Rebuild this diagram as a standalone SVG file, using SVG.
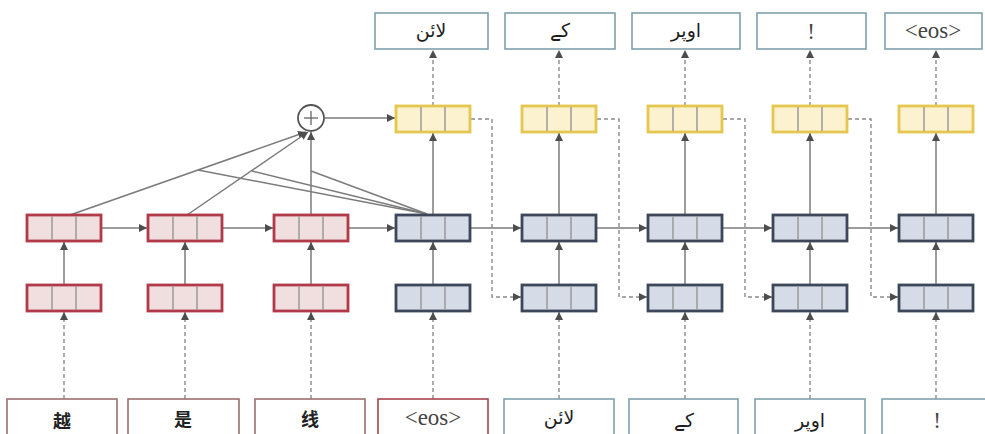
<svg xmlns="http://www.w3.org/2000/svg" width="985" height="434" viewBox="0 0 985 434">
<defs>
<marker id="ah" markerWidth="9" markerHeight="8" refX="8" refY="4" orient="auto" markerUnits="userSpaceOnUse">
<path d="M0,0 L8,4 L0,8 z" fill="#4d4d4d"/>
</marker>
<style>
.red{fill:#f1dfe0;stroke:#b1394a;stroke-width:2.8}
.blue{fill:#d6dce7;stroke:#3c4759;stroke-width:2.8}
.yel{fill:#fcf2cf;stroke:#e5c64e;stroke-width:2.8}
.dv{stroke:#9a9a9a;stroke-width:1.5}
.tb{fill:#ffffff;stroke:#7ea1ab;stroke-width:1.6}
.eb{fill:#ffffff;stroke:#9c6f72;stroke-width:1.6}
.ln{stroke:#7b7b7b;stroke-width:1.5;fill:none}
.ds{stroke:#8a8a8a;stroke-width:1.4;stroke-dasharray:4 3;fill:none}
.ur{font-family:"DejaVu Sans",sans-serif;font-size:19px;fill:#1e1e1e;text-anchor:middle}
.se{font-family:"Liberation Serif",serif;font-size:23px;fill:#444;text-anchor:middle}
.zh{font-family:"Noto Sans CJK SC",sans-serif;font-size:18px;font-weight:bold;fill:#222;text-anchor:middle}
</style>
</defs>

<g id="connectors">
<line class="ds" x1="64" y1="399" x2="64" y2="312" marker-end="url(#ah)"/>
<line class="ds" x1="185" y1="399" x2="185" y2="312" marker-end="url(#ah)"/>
<line class="ds" x1="311" y1="399" x2="311" y2="312" marker-end="url(#ah)"/>
<line class="ds" x1="433" y1="399" x2="433" y2="312" marker-end="url(#ah)"/>
<line class="ds" x1="559" y1="399" x2="559" y2="312" marker-end="url(#ah)"/>
<line class="ds" x1="685" y1="399" x2="685" y2="312" marker-end="url(#ah)"/>
<line class="ds" x1="810" y1="399" x2="810" y2="312" marker-end="url(#ah)"/>
<line class="ds" x1="936" y1="399" x2="936" y2="312" marker-end="url(#ah)"/>
<line class="ln" x1="64" y1="285" x2="64" y2="242" marker-end="url(#ah)"/>
<line class="ln" x1="185" y1="285" x2="185" y2="242" marker-end="url(#ah)"/>
<line class="ln" x1="311" y1="285" x2="311" y2="242" marker-end="url(#ah)"/>
<line class="ln" x1="433" y1="285" x2="433" y2="242" marker-end="url(#ah)"/>
<line class="ln" x1="559" y1="285" x2="559" y2="242" marker-end="url(#ah)"/>
<line class="ln" x1="685" y1="285" x2="685" y2="242" marker-end="url(#ah)"/>
<line class="ln" x1="810" y1="285" x2="810" y2="242" marker-end="url(#ah)"/>
<line class="ln" x1="936" y1="285" x2="936" y2="242" marker-end="url(#ah)"/>
<line class="ln" x1="101" y1="228" x2="147" y2="228" marker-end="url(#ah)"/>
<line class="ln" x1="223" y1="228" x2="273" y2="228" marker-end="url(#ah)"/>
<line class="ln" x1="349" y1="228" x2="395" y2="228" marker-end="url(#ah)"/>
<line class="ln" x1="471" y1="228" x2="521" y2="228" marker-end="url(#ah)"/>
<line class="ln" x1="597" y1="228" x2="647" y2="228" marker-end="url(#ah)"/>
<line class="ln" x1="723" y1="228" x2="772" y2="228" marker-end="url(#ah)"/>
<line class="ln" x1="848" y1="228" x2="898" y2="228" marker-end="url(#ah)"/>
<line class="ln" x1="433" y1="215" x2="433" y2="133" marker-end="url(#ah)"/>
<line class="ln" x1="559" y1="215" x2="559" y2="133" marker-end="url(#ah)"/>
<line class="ln" x1="685" y1="215" x2="685" y2="133" marker-end="url(#ah)"/>
<line class="ln" x1="810" y1="215" x2="810" y2="133" marker-end="url(#ah)"/>
<line class="ln" x1="936" y1="215" x2="936" y2="133" marker-end="url(#ah)"/>
<line class="ds" x1="433" y1="106" x2="433" y2="50" marker-end="url(#ah)"/>
<line class="ds" x1="559" y1="106" x2="559" y2="50" marker-end="url(#ah)"/>
<line class="ds" x1="685" y1="106" x2="685" y2="50" marker-end="url(#ah)"/>
<line class="ds" x1="810" y1="106" x2="810" y2="50" marker-end="url(#ah)"/>
<line class="ds" x1="936" y1="106" x2="936" y2="50" marker-end="url(#ah)"/>
<polyline class="ds" points="471,119 492,119 492,297 521,297" marker-end="url(#ah)"/>
<polyline class="ds" points="597,119 619,119 619,297 647,297" marker-end="url(#ah)"/>
<polyline class="ds" points="723,119 745,119 745,297 772,297" marker-end="url(#ah)"/>
<polyline class="ds" points="848,119 871,119 871,297 898,297" marker-end="url(#ah)"/>
<line class="ln" x1="70" y1="215" x2="306" y2="132" marker-end="url(#ah)"/>
<line class="ln" x1="187" y1="215" x2="308" y2="132" marker-end="url(#ah)"/>
<line class="ln" x1="311" y1="215" x2="311" y2="132" marker-end="url(#ah)"/>
<line class="ln" x1="427" y1="214" x2="198" y2="170"/>
<line class="ln" x1="427" y1="214" x2="252" y2="171"/>
<line class="ln" x1="427" y1="214" x2="311" y2="171"/>
<line class="ln" x1="325" y1="118" x2="395" y2="118" marker-end="url(#ah)"/>
</g>

<g id="plus">
<circle cx="311" cy="118" r="13" fill="#fff" stroke="#555" stroke-width="1.8"/>
<line x1="304" y1="118" x2="318" y2="118" stroke="#666" stroke-width="1.3"/>
<line x1="311" y1="111" x2="311" y2="125" stroke="#666" stroke-width="1.3"/>
</g>

<g id="enc-l1"><rect class="red" x="27" y="285" width="74" height="26"/><line class="dv" x1="52" y1="286" x2="52" y2="310"/><line class="dv" x1="76" y1="286" x2="76" y2="310"/></g>
<g id="enc-l2"><rect class="red" x="148" y="285" width="74" height="26"/><line class="dv" x1="173" y1="286" x2="173" y2="310"/><line class="dv" x1="197" y1="286" x2="197" y2="310"/></g>
<g id="enc-l3"><rect class="red" x="274" y="285" width="74" height="26"/><line class="dv" x1="299" y1="286" x2="299" y2="310"/><line class="dv" x1="323" y1="286" x2="323" y2="310"/></g>
<g id="enc-u1"><rect class="red" x="27" y="215" width="74" height="26"/><line class="dv" x1="52" y1="216" x2="52" y2="240"/><line class="dv" x1="76" y1="216" x2="76" y2="240"/></g>
<g id="enc-u2"><rect class="red" x="148" y="215" width="74" height="26"/><line class="dv" x1="173" y1="216" x2="173" y2="240"/><line class="dv" x1="197" y1="216" x2="197" y2="240"/></g>
<g id="enc-u3"><rect class="red" x="274" y="215" width="74" height="26"/><line class="dv" x1="299" y1="216" x2="299" y2="240"/><line class="dv" x1="323" y1="216" x2="323" y2="240"/></g>
<g id="dec-l1"><rect class="blue" x="396" y="285" width="74" height="26"/><line class="dv" x1="421" y1="286" x2="421" y2="310"/><line class="dv" x1="445" y1="286" x2="445" y2="310"/></g>
<g id="dec-l2"><rect class="blue" x="522" y="285" width="74" height="26"/><line class="dv" x1="547" y1="286" x2="547" y2="310"/><line class="dv" x1="571" y1="286" x2="571" y2="310"/></g>
<g id="dec-l3"><rect class="blue" x="648" y="285" width="74" height="26"/><line class="dv" x1="673" y1="286" x2="673" y2="310"/><line class="dv" x1="697" y1="286" x2="697" y2="310"/></g>
<g id="dec-l4"><rect class="blue" x="773" y="285" width="74" height="26"/><line class="dv" x1="798" y1="286" x2="798" y2="310"/><line class="dv" x1="822" y1="286" x2="822" y2="310"/></g>
<g id="dec-l5"><rect class="blue" x="899" y="285" width="74" height="26"/><line class="dv" x1="924" y1="286" x2="924" y2="310"/><line class="dv" x1="948" y1="286" x2="948" y2="310"/></g>
<g id="dec-u1"><rect class="blue" x="396" y="215" width="74" height="26"/><line class="dv" x1="421" y1="216" x2="421" y2="240"/><line class="dv" x1="445" y1="216" x2="445" y2="240"/></g>
<g id="dec-u2"><rect class="blue" x="522" y="215" width="74" height="26"/><line class="dv" x1="547" y1="216" x2="547" y2="240"/><line class="dv" x1="571" y1="216" x2="571" y2="240"/></g>
<g id="dec-u3"><rect class="blue" x="648" y="215" width="74" height="26"/><line class="dv" x1="673" y1="216" x2="673" y2="240"/><line class="dv" x1="697" y1="216" x2="697" y2="240"/></g>
<g id="dec-u4"><rect class="blue" x="773" y="215" width="74" height="26"/><line class="dv" x1="798" y1="216" x2="798" y2="240"/><line class="dv" x1="822" y1="216" x2="822" y2="240"/></g>
<g id="dec-u5"><rect class="blue" x="899" y="215" width="74" height="26"/><line class="dv" x1="924" y1="216" x2="924" y2="240"/><line class="dv" x1="948" y1="216" x2="948" y2="240"/></g>
<g id="att-1"><rect class="yel" x="396" y="106" width="74" height="26"/><line class="dv" x1="421" y1="107" x2="421" y2="131"/><line class="dv" x1="445" y1="107" x2="445" y2="131"/></g>
<g id="att-2"><rect class="yel" x="522" y="106" width="74" height="26"/><line class="dv" x1="547" y1="107" x2="547" y2="131"/><line class="dv" x1="571" y1="107" x2="571" y2="131"/></g>
<g id="att-3"><rect class="yel" x="648" y="106" width="74" height="26"/><line class="dv" x1="673" y1="107" x2="673" y2="131"/><line class="dv" x1="697" y1="107" x2="697" y2="131"/></g>
<g id="att-4"><rect class="yel" x="773" y="106" width="74" height="26"/><line class="dv" x1="798" y1="107" x2="798" y2="131"/><line class="dv" x1="822" y1="107" x2="822" y2="131"/></g>
<g id="att-5"><rect class="yel" x="899" y="106" width="74" height="26"/><line class="dv" x1="924" y1="107" x2="924" y2="131"/><line class="dv" x1="948" y1="107" x2="948" y2="131"/></g>

<g id="out-1"><rect class="tb" x="375" y="13" width="113" height="36"/><text class="ur" x="431" y="37">لائن</text></g>
<g id="out-2"><rect class="tb" x="505" y="13" width="110" height="36"/><text class="ur" x="560" y="37">کے</text></g>
<g id="out-3"><rect class="tb" x="632" y="13" width="108" height="36"/><text class="ur" x="686" y="37">اوپر</text></g>
<g id="out-4"><rect class="tb" x="757" y="13" width="109" height="36"/><text class="se" x="811" y="39">!</text></g>
<g id="out-5"><rect class="tb" x="885" y="13" width="97" height="36"/><text class="se" x="933" y="38">&lt;eos&gt;</text></g>

<g id="in-1"><rect class="eb" x="7" y="399" width="110" height="46"/><text class="zh" x="62" y="428">越</text></g>
<g id="in-2"><rect class="eb" x="128" y="399" width="111" height="46"/><text class="zh" x="183" y="426">是</text></g>
<g id="in-3"><rect class="eb" x="255" y="399" width="110" height="46"/><text class="zh" x="310" y="426">线</text></g>
<g id="in-4"><rect class="eb" x="378" y="399" width="110" height="46" style="stroke:#a8434f"/><text class="se" x="433" y="425">&lt;eos&gt;</text></g>
<g id="in-5"><rect class="tb" x="504" y="399" width="110" height="46"/><text class="ur" x="559" y="424">لائن</text></g>
<g id="in-6"><rect class="tb" x="629" y="399" width="109" height="46"/><text class="ur" x="684" y="427">کے</text></g>
<g id="in-7"><rect class="tb" x="755" y="399" width="110" height="46"/><text class="ur" x="810" y="427">اوپر</text></g>
<g id="in-8"><rect class="tb" x="882" y="399" width="110" height="46"/><text class="se" x="937" y="428">!</text></g>
</svg>
